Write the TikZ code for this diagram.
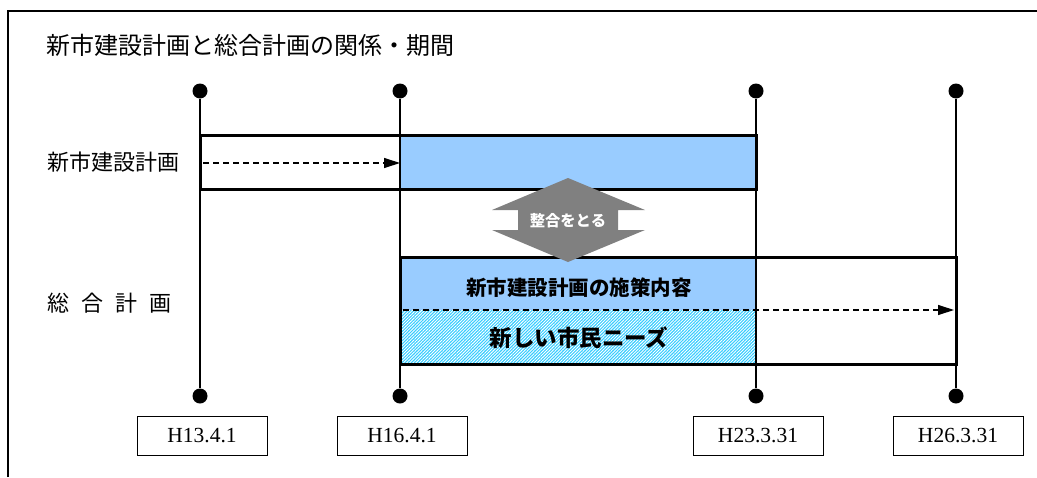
\documentclass[tikz,border=0pt]{standalone}
\usepackage{fontspec}
\newfontfamily\jp{Noto Sans CJK JP}
\newfontfamily\dt{Liberation Serif}
\usetikzlibrary{arrows.meta,patterns.meta}

\definecolor{barblue}{HTML}{99CCFF}
\definecolor{needcyan}{HTML}{33CCFF}
\definecolor{arrgray}{HTML}{808080}

\begin{document}
\begin{tikzpicture}[x=1pt,y=-1pt,
  dot/.style={circle,fill,inner sep=0pt,minimum size=15pt},
  datebox/.style={draw,line width=0.9pt,minimum width=130pt,minimum height=39pt,
    inner sep=0pt,font=\dt\fontsize{21.5}{21.5}\selectfont},
  label/.style={inner sep=0pt,font=\jp\fontsize{22}{22}\selectfont},
  period/.style={line width=3pt},
  flow/.style={line width=1.2pt,dash pattern=on 6pt off 4pt,
    -{Triangle[length=16pt,width=10pt]}}]
\useasboundingbox (0,0) rectangle (1037,477);
% frame and title
\draw[line width=1.5pt] (8,477) -- (8,11) -- (1037,11);
\node[anchor=west,inner sep=0pt,font=\jp\fontsize{24}{24}\selectfont] (title) at (46,45)
  {新市建設計画と総合計画の関係・期間};
% fills
\fill[barblue] (400,135) rectangle (756,189);
\fill[barblue] (400,257) rectangle (756,310);
\path[preaction={fill=needcyan},pattern={Lines[angle=45,distance=2.2pt,line width=0.9pt]},
  pattern color=white] (400,310) rectangle (756,364);
% time lines
\foreach \x/\d/\n in {200/H13.4.1/1,400/H16.4.1/2,756/H23.3.31/3,956/H26.3.31/4}{%
\node[dot] (t\n) at (\x,91) {};
\node[dot] (b\n) at (\x,396) {};
\draw[line width=1.5pt] (t\n) -- (b\n);
\node[datebox] (d\n) at (\x+2,436) {\d};
}
% periods
\coordinate (s1) at (203,163);
\coordinate (e1) at (400,163);
\draw[flow] (s1) -- (e1);
\coordinate (s2) at (403,310);
\coordinate (e2) at (954,310);
\draw[flow] (s2) -- (e2);
\draw[period] (200,135) rectangle (756,189);
\draw[period] (400,257) rectangle (956,364);
% labels
\node[label,anchor=west] (plan1) at (47,162) {新市建設計画};
\node[label,anchor=west] (plan2) at (47,303)
  {総\hspace{.55em}合\hspace{.55em}計\hspace{.55em}画};
\node[inner sep=0pt,font=\jp\bfseries\fontsize{20.5}{20.5}\selectfont] (policy) at (579,288)
  {新市建設計画の施策内容};
\node[inner sep=0pt,font=\jp\bfseries\fontsize{22.5}{22.5}\selectfont] (needs) at (579,338)
  {新しい市民ニーズ};
% match arrow
\fill[arrgray] (568,178) -- (645,210) -- (618,210) -- (618,230) -- (645,230) -- (568,262)
  -- (492,230) -- (518,230) -- (518,210) -- (492,210) -- cycle;
\node[text=white,inner sep=0pt,font=\jp\bfseries\fontsize{15.3}{15.3}\selectfont] (match)
  at (568,221) {整合をとる};
\end{tikzpicture}
\end{document}
